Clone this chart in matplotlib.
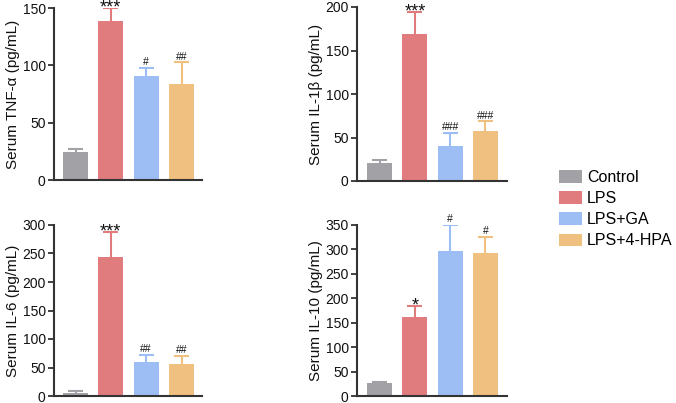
import matplotlib
matplotlib.use("Agg")
import matplotlib.pyplot as plt
from matplotlib.patches import Patch

plt.rcParams['font.family'] = ['Liberation Sans', 'DejaVu Sans']

groups = ["Control", "LPS", "LPS+GA", "LPS+4-HPA"]
colors = ["#A2A2A6", "#E07B7E", "#9DBEF5", "#F0C080"]

tnf_mean = [24, 139, 91, 83.5]
tnf_err = [2.8, 11, 6.5, 19]
tnf_sig = ["", "***", "#", "##"]

il1b_mean = [21, 169, 40.5, 57.5]
il1b_err = [3, 25, 14.5, 11]
il1b_sig = ["", "***", "###", "###"]

il6_mean = [6, 243, 59, 56]
il6_err = [2, 44, 13, 15]
il6_sig = ["", "***", "##", "##"]

il10_mean = [26, 162, 296, 292]
il10_err = [3, 22, 54, 34]
il10_sig = ["", "*", "#", "#"]

ylabels = ["Serum TNF-α (pg/mL)", "Serum IL-1β (pg/mL)", "Serum IL-6 (pg/mL)", "Serum IL-10 (pg/mL)"]
ymax = [150, 200, 300, 350]
ystep = [50, 50, 50, 50]

W, H = 676, 403
fig = plt.figure(figsize=(W/100, H/100), dpi=100)

# pixel boxes: left, right, top, bottom
boxes = [(54, 202, 8, 180), (357, 507, 7, 181), (54, 202, 225, 396), (357, 507, 225, 396)]
xlims = [(-0.61, 3.58), (-0.64, 3.61), (-0.61, 3.58), (-0.64, 3.61)]
data = [(tnf_mean, tnf_err, tnf_sig), (il1b_mean, il1b_err, il1b_sig),
        (il6_mean, il6_err, il6_sig), (il10_mean, il10_err, il10_sig)]

spine_col = "#333333"
cw = 0.21
for i, (box, (m, e, s)) in enumerate(zip(boxes, data)):
    l, r, t, b = box
    ax = fig.add_axes([l/W, 1 - b/H, (r - l)/W, (b - t)/H])
    x = list(range(len(groups)))
    ax.bar(x, m, width=0.71, color=colors, zorder=2)
    for xi, mi, ei, ci, si in zip(x, m, e, colors, s):
        ax.vlines(xi, mi, mi + ei, color=ci, lw=1.5, zorder=1)
        ax.hlines(mi + ei, xi - cw, xi + cw, color=ci, lw=1.5, zorder=1)
        if si:
            if "*" in si:
                ax.annotate(si, (xi, mi + ei), xytext=(0, -3.0), textcoords='offset points',
                            ha='center', va='baseline', fontsize=13, color='#111111',
                            annotation_clip=False, zorder=3)
            else:
                ax.annotate(si, (xi, mi + ei), xytext=(0, 2.0), textcoords='offset points',
                            ha='center', va='baseline', fontsize=7.5, color='#111111',
                            annotation_clip=False, zorder=3)
    ax.set_xlim(*xlims[i])
    ax.set_ylim(0, ymax[i])
    ax.set_yticks(range(0, ymax[i] + 1, ystep[i]))
    ax.set_xticks([])
    for sp in ['top', 'right']:
        ax.spines[sp].set_visible(False)
    for sp in ['left', 'bottom']:
        ax.spines[sp].set_color(spine_col)
        ax.spines[sp].set_linewidth(1.5)
    ax.tick_params(axis='y', direction='out', length=4, width=1.3, color=spine_col,
                   labelsize=10, labelcolor='#111111', pad=2)
    ax.set_ylabel(ylabels[i], fontsize=11, color='#111111', labelpad=2)

handles = [Patch(facecolor=c, edgecolor='none', label=g) for c, g in zip(colors, groups)]
fig.legend(handles=handles, loc='upper left', bbox_to_anchor=(559/W, 1 - 170/H),
           frameon=False, fontsize=11.5, handlelength=1.45, handleheight=0.8,
           handletextpad=0.3, labelspacing=0.38, borderaxespad=0, borderpad=0)

fig.savefig("out.png", dpi=100)
